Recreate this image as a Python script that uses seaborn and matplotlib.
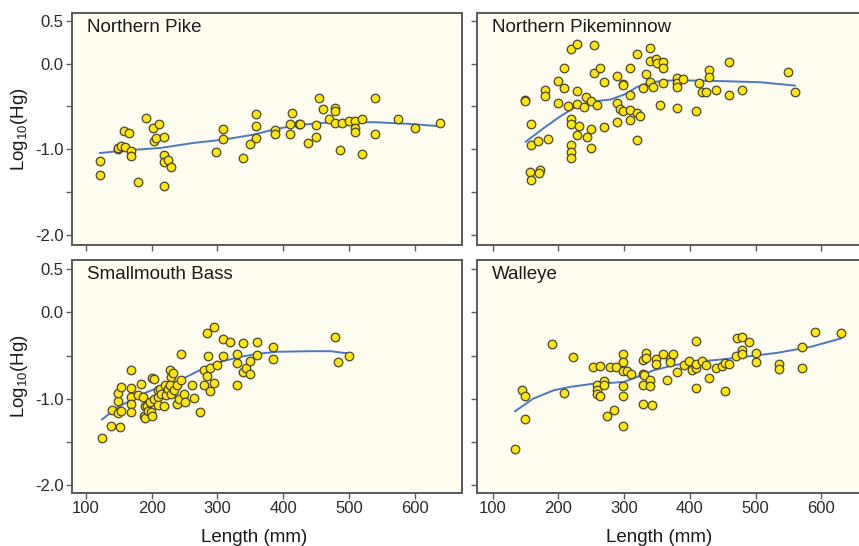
import matplotlib
matplotlib.use("Agg")
import matplotlib.pyplot as plt
import seaborn as sns
import pandas as pd

# ---------------- data ----------------
species = ["Northern Pike", "Northern Pikeminnow", "Smallmouth Bass", "Walleye"]

pike_len = [121, 121, 148, 149, 153, 159, 158, 166, 169, 169, 179, 192, 202, 211, 204, 206,
            219, 219, 219, 224, 229, 219, 298, 309, 309, 339, 349, 359, 359, 359, 388, 388,
            410, 414, 411, 424, 426, 437, 450, 450, 454, 460, 470, 479, 479, 479, 489, 487,
            500, 509, 509, 509, 520, 520, 539, 539, 575, 600, 639]
pike_hg = [-1.136, -1.296, -0.992, -0.984, -0.965, -0.977, -0.790, -0.813, -1.019, -1.082,
           -1.377, -0.638, -0.755, -0.700, -0.903, -0.864, -0.852, -1.070, -1.152, -1.124,
           -1.202, -1.424, -1.027, -0.767, -0.883, -1.105, -0.942, -0.584, -0.731, -0.872,
           -0.770, -0.817, -0.817, -0.576, -0.708, -0.708, -0.704, -0.930, -0.716, -0.856,
           -0.400, -0.525, -0.646, -0.521, -0.556, -0.696, -0.696, -1.004, -0.669, -0.669,
           -0.747, -0.798, -0.642, -1.054, -0.405, -0.821, -0.642, -0.747, -0.693]
pike_fit_len = [121, 162, 213, 263, 309, 355, 385, 416, 456, 492, 543, 593, 639]
pike_fit_hg = [-1.043, -1.012, -0.984, -0.926, -0.887, -0.829, -0.770, -0.724, -0.693,
               -0.681, -0.685, -0.704, -0.731]

minnow_len = [150, 150, 159, 159, 169, 184, 157, 159, 172, 170, 179, 179, 199, 209, 209, 199,
              214, 219, 229, 254, 254, 264, 269, 229, 229, 239, 242, 249, 259, 219, 219, 231,
              228, 244, 249, 249, 269, 219, 219, 219, 289, 299, 299, 289, 294, 299, 309, 309,
              309, 319, 324, 309, 289, 319, 320, 329, 334, 339, 339, 339, 344, 349, 350, 359,
              359, 359, 354, 380, 380, 380, 389, 380, 409, 414, 419, 424, 429, 429, 440, 459,
              459, 480, 550, 560]
minnow_hg = [-0.420, -0.440, -0.708, -0.949, -0.907, -0.875, -1.268, -1.362, -1.245, -1.276,
             -0.307, -0.381, -0.206, -0.047, -0.280, -0.463, -0.494, 0.171, 0.230, 0.222,
             -0.109, -0.054, -0.214, -0.315, -0.467, -0.510, -0.393, -0.436, -0.482, -0.642,
             -0.708, -0.724, -0.833, -0.860, -0.763, -0.988, -0.743, -0.949, -1.035, -1.101,
             -0.140, -0.233, -0.249, -0.463, -0.533, -0.549, -0.047, -0.370, -0.541, -0.580,
             -0.607, -0.654, -0.677, -0.891, 0.113, -0.288, -0.117, 0.183, 0.035, -0.218,
             -0.272, 0.058, 0.004, 0.019, -0.054, -0.230, -0.479, -0.167, -0.226, -0.276,
             -0.175, -0.514, -0.556, -0.226, -0.331, -0.331, -0.078, -0.156, -0.304, 0.016,
             -0.366, -0.304, -0.101, -0.327]
minnow_fit_len = [150, 178, 203, 228, 254, 279, 300, 320, 340, 366, 406, 457, 508, 560]
minnow_fit_hg = [-0.914, -0.751, -0.615, -0.498, -0.440, -0.420, -0.362, -0.272, -0.218,
                 -0.198, -0.198, -0.206, -0.218, -0.257]

bass_len = [124, 138, 152, 139, 149, 154, 149, 149, 154, 169, 169, 169, 169, 169, 179, 184,
            187, 188, 190, 190, 193, 194, 198, 199, 200, 201, 203, 204, 209, 209, 209, 213,
            214, 219, 220, 222, 225, 228, 229, 233, 228, 229, 234, 238, 239, 241, 244, 244,
            249, 250, 261, 265, 274, 279, 280, 284, 286, 289, 284, 294, 289, 294, 299, 309,
            309, 319, 329, 329, 329, 339, 339, 344, 350, 350, 360, 360, 384, 384, 479, 484, 500]
bass_hg = [-1.453, -1.314, -1.326, -1.128, -1.167, -1.143, -1.031, -0.930, -0.868, -0.671,
           -0.876, -0.981, -1.058, -1.155, -0.957, -0.833, -0.981, -1.202, -1.225, -1.081,
           -1.081, -1.143, -1.039, -1.155, -1.198, -0.760, -0.767, -1.000, -0.903, -0.981,
           -1.078, -0.884, -0.942, -1.081, -0.845, -0.961, -0.884, -0.671, -0.748, -0.702,
           -0.845, -0.950, -0.903, -0.845, -1.058, -1.000, -0.787, -0.484, -0.942, -1.039,
           -0.845, -0.988, -1.155, -0.671, -0.841, -0.733, -0.508, -0.915, -0.244, -0.174,
           -0.647, -0.814, -0.609, -0.306, -0.508, -0.341, -0.477, -0.585, -0.841, -0.353,
           -0.690, -0.640, -0.566, -0.717, -0.341, -0.496, -0.403, -0.539, -0.283, -0.574,
           -0.508]
bass_fit_len = [124, 149, 187, 213, 238, 263, 289, 314, 340, 365, 390, 441, 472, 500]
bass_fit_hg = [-1.244, -1.097, -0.942, -0.864, -0.806, -0.709, -0.612, -0.554, -0.508,
               -0.477, -0.457, -0.450, -0.450, -0.477]

walleye_len = [134, 144, 149, 149, 191, 209, 222, 252, 259, 259, 259, 264, 264, 269, 269, 274,
               279, 285, 288, 299, 299, 299, 299, 299, 299, 305, 310, 329, 329, 329, 329, 330,
               334, 334, 339, 339, 343, 349, 349, 359, 365, 370, 370, 375, 380, 391, 399, 404,
               409, 409, 409, 409, 419, 424, 429, 440, 449, 454, 454, 459, 470, 472, 480, 480,
               480, 490, 500, 500, 535, 535, 570, 570, 590, 630]
walleye_hg = [-1.585, -0.903, -0.973, -1.236, -0.368, -0.930, -0.519, -0.636, -0.837, -0.895,
              -0.950, -0.624, -0.973, -0.798, -0.837, -1.205, -0.636, -1.136, -0.636, -0.481,
              -0.574, -0.678, -0.849, -0.973, -1.318, -0.674, -0.709, -0.554, -0.709, -0.845,
              -1.058, -0.725, -0.469, -0.527, -0.787, -0.849, -1.070, -0.535, -0.601, -0.477,
              -0.787, -0.535, -0.574, -0.488, -0.690, -0.605, -0.566, -0.671, -0.640, -0.593,
              -0.337, -0.876, -0.566, -0.612, -0.760, -0.643, -0.620, -0.585, -0.915, -0.601,
              -0.508, -0.302, -0.283, -0.438, -0.477, -0.349, -0.469, -0.574, -0.593, -0.651,
              -0.403, -0.647, -0.225, -0.236]
walleye_fit_len = [134, 162, 193, 218, 254, 279, 300, 320, 345, 376, 406, 447, 482, 533, 584, 630]
walleye_fit_hg = [-1.147, -1.000, -0.903, -0.864, -0.826, -0.818, -0.806, -0.748, -0.671,
                  -0.612, -0.574, -0.547, -0.516, -0.469, -0.399, -0.302]

ytick_vals = [0.5, 0.0, -0.5, -1.0, -1.5, -2.0]
ytick_labels = ["0.5", "0.0", "", "-1.0", "", "-2.0"]
xtick_vals = [100, 200, 300, 400, 500, 600]
xtick_labels = ["100", "200", "300", "400", "500", "600"]

points = [(pike_len, pike_hg), (minnow_len, minnow_hg), (bass_len, bass_hg),
          (walleye_len, walleye_hg)]
fits = [(pike_fit_len, pike_fit_hg), (minnow_fit_len, minnow_fit_hg),
        (bass_fit_len, bass_fit_hg), (walleye_fit_len, walleye_fit_hg)]

# ---------------- style ----------------
sns.set_style("ticks")
plt.rcParams["font.family"] = ["Liberation Sans", "DejaVu Sans"]
plt.rcParams["mathtext.fontset"] = "custom"
plt.rcParams["mathtext.rm"] = "Liberation Sans"
plt.rcParams["mathtext.it"] = "Liberation Sans:italic"

W, H = 859, 546
fig = plt.figure(figsize=(W / 100, H / 100), dpi=100)
fig.patch.set_facecolor("white")

# panel rectangles in pixels: left, top, right, bottom
rects = [(72, 13, 462, 245), (477, 13, 866, 245),
         (72, 260, 462, 493), (477, 260, 866, 493)]
xlims = [(78.7, 672), (76.3, 668), (78.7, 672), (76.3, 668)]
ylims = [(-2.116, 0.59), (-2.116, 0.59), (-2.095, 0.608), (-2.095, 0.608)]

bg = "#fffcf0"
spine_c = "#5a5a5a"
face = "#ffe60a"
edge = "#4a4630"
line_c = "#4a78c8"

for i, (name, (px, py), (fx, fy)) in enumerate(zip(species, points, fits)):
    l, t, r, b = rects[i]
    ax = fig.add_axes([l / W, 1 - b / H, (r - l) / W, (b - t) / H])
    ax.set_facecolor(bg)
    df = pd.DataFrame({"Length": px, "Hg": py})
    dfit = pd.DataFrame({"Length": fx, "Hg": fy})
    sns.lineplot(data=dfit, x="Length", y="Hg", ax=ax, color=line_c, lw=1.4,
                 sort=True, zorder=2)
    sns.scatterplot(data=df, x="Length", y="Hg", ax=ax, s=38, color=face,
                    edgecolor=edge, linewidth=0.9, zorder=3)
    ax.set_xlim(*xlims[i])
    ax.set_ylim(*ylims[i])
    ax.set_yticks(ytick_vals)
    ax.set_xticks(xtick_vals)
    for sp in ax.spines.values():
        sp.set_color(spine_c)
        sp.set_linewidth(1.4)
    ax.tick_params(direction="out", length=4, width=1, color=spine_c,
                   labelsize=12, labelcolor="#2a2a2a", pad=2)
    ax.text(0.038, 0.975, name, transform=ax.transAxes, ha="left", va="top",
            fontsize=13.5, color="#1a1a1a")
    if i % 2 == 0:
        ax.set_yticklabels(ytick_labels)
        ax.set_ylabel(r"Log$_{10}$(Hg)", fontsize=13.5, color="#1a1a1a")
        ax.yaxis.set_label_coords(-0.108, 0.5)
    else:
        ax.set_yticklabels([])
        ax.set_ylabel("")
    if i >= 2:
        ax.set_xticklabels(xtick_labels)
        ax.set_xlabel("Length (mm)", fontsize=13.5, color="#1a1a1a")
        ax.xaxis.set_label_coords(0.467, -0.155)
    else:
        ax.set_xticklabels([])
        ax.set_xlabel("")

fig.savefig("out.png", dpi=100)
